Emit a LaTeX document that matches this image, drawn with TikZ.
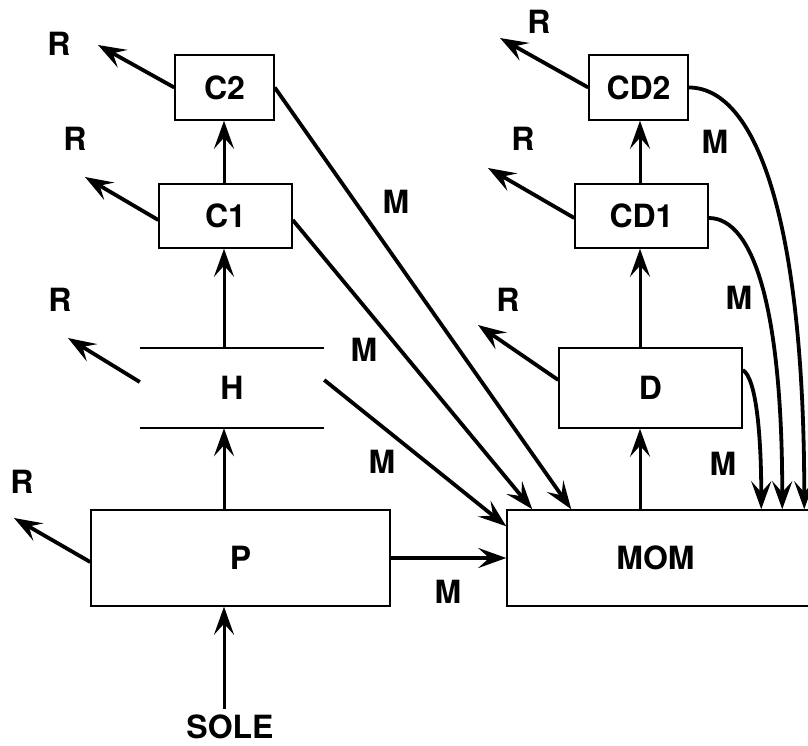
\documentclass[tikz,border=0pt]{standalone}
\usepackage{fontspec}
\setmainfont{TeX Gyre Heros}
\usetikzlibrary{arrows.meta,positioning}

\begin{document}
\begin{tikzpicture}[x=1pt, y=-1pt, font=\fontsize{32}{35}\selectfont\bfseries,
    >={Stealth[length=28pt,width=20pt,inset=11pt]},
    box/.style={draw, line width=1.5pt, inner sep=0pt},
    flow/.style={->, line width=3pt},
    mflow/.style={->, line width=3.8pt},
    lbl/.style={inner sep=0pt}]

  \useasboundingbox (0,0) rectangle (808,746);

  %% ── left column ───────────────────────────────
  \coordinate (lx) at (224,0);
  \node[box, minimum width=299pt, minimum height=96pt] (p)  at (240.5,558) {P};
  \node[minimum width=184pt, minimum height=80pt, inner sep=0pt] (h) at (232,388) {H};
  \node[box, minimum width=133pt, minimum height=64pt] (c1) at (225.5,216) {C1};
  \node[box, minimum width=99pt,  minimum height=65pt] (c2) at (224.5,87.5) {C2};
  \node[lbl] (sole) at (230,727) {SOLE};

  \draw[line width=1.5pt] (h.north west) -- (h.north east);
  \draw[line width=1.5pt] (h.south west) -- (h.south east);

  \draw[flow] ([yshift=6pt]sole.north -| lx) -- (p.south -| lx);
  \draw[flow] (p.north -| lx)  -- (h.south -| lx);
  \draw[flow] (h.north -| lx)  -- (c1.south -| lx);
  \draw[flow] (c1.north -| lx) -- (c2.south -| lx);

  %% ── right column ──────────────────────────────
  \coordinate (rx) at (640,0);
  \node[box, minimum width=305pt, minimum height=96pt] (mom) at (659.5,558) {\hspace*{-8pt}MOM};
  \node[box, minimum width=183pt, minimum height=80pt] (d)   at (650.5,388) {D};
  \node[box, minimum width=133pt, minimum height=64pt] (cd1) at (641.5,216) {CD1};
  \node[box, minimum width=99pt,  minimum height=65pt] (cd2) at (638.5,87.5) {CD2};

  \draw[flow] (mom.north -| rx) -- (d.south -| rx);
  \draw[flow] (d.north -| rx)   -- (cd1.south -| rx);
  \draw[flow] (cd1.north -| rx) -- (cd2.south -| rx);

  %% ── R outputs ─────────────────────────────────
  \coordinate (tC2) at (98,45);
  \coordinate (tC1) at (85,177);
  \coordinate (tH)  at (68,338);
  \coordinate (tP)  at (14,518);
  \coordinate (tCD2) at (500,38);
  \coordinate (tCD1) at (488,168);
  \coordinate (tD)  at (478,325);
  \draw[mflow] (c2.west) -- (tC2);
  \draw[mflow] ([yshift=-4pt]c1.west) -- (tC1);
  \draw[mflow] ([yshift=6pt]h.west) -- (tH);
  \draw[mflow] ([yshift=-4pt]p.west) -- (tP);
  \draw[mflow] (cd2.west) -- (tCD2);
  \draw[mflow] ([yshift=-2pt]cd1.west) -- (tCD1);
  \draw[mflow] ([yshift=8pt]d.west) -- (tD);
  \node[lbl] (r1) at (59,44)  {R};
  \node[lbl] (r2) at (75,139) {R};
  \node[lbl] (r3) at (60,300) {R};
  \node[lbl] (r4) at (22,482) {R};
  \node[lbl] (r5) at (539,22) {R};
  \node[lbl] (r6) at (523,139) {R};
  \node[lbl] (r7) at (508,300) {R};

  %% ── M flows into MOM ──────────────────────────
  \draw[mflow] (p.east) -- (mom.west);
  \draw[mflow] ([yshift=8pt]h.east) -- ([yshift=-17pt]mom.north west);
  \draw[mflow] ([yshift=-4pt]c1.east) -- ([xshift=26pt]mom.north west);
  \draw[mflow] (c2.east) -- ([xshift=65pt]mom.north west);
  \draw[mflow] ([yshift=18pt]d.east) .. controls +(14,8) and +(0,-70) .. ([xshift=255pt]mom.north west);
  \draw[mflow] ([yshift=-2pt]cd1.east) .. controls +(45,0) and +(0,-200) .. ([xshift=276pt]mom.north west);
  \draw[mflow] (cd2.east) .. controls +(70,0) and +(0,-280) .. ([xshift=298pt]mom.north west);
  \node[lbl] (m1) at (448,592) {M};
  \node[lbl] (m2) at (382,462) {M};
  \node[lbl] (m3) at (364,350) {M};
  \node[lbl] (m4) at (396,202) {M};
  \node[lbl] (m5) at (723,464) {M};
  \node[lbl] (m6) at (739,298) {M};
  \node[lbl] (m7) at (715,142) {M};

\end{tikzpicture}
\end{document}
